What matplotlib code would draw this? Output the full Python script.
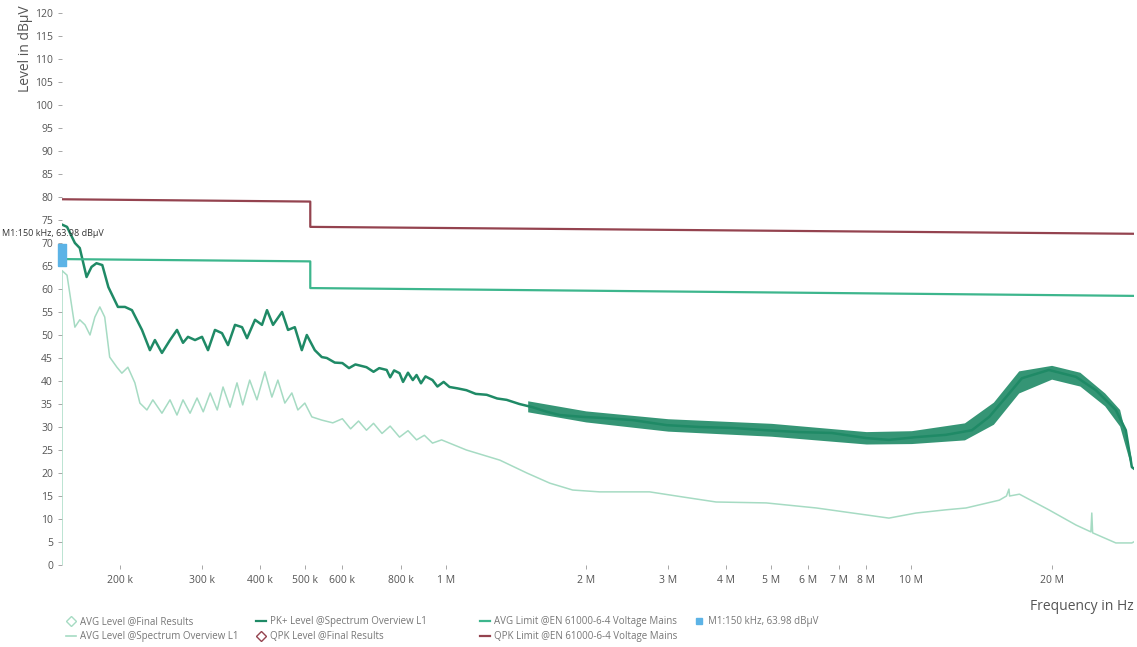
import matplotlib
matplotlib.use("Agg")
import matplotlib.pyplot as plt
from matplotlib.lines import Line2D

plt.rcParams['font.family'] = ['Open Sans', 'DejaVu Sans']

# PK+ level @Spectrum Overview L1 (kHz, dBuV)
pk_freq_khz = [150, 153.8, 159.9, 163.8, 169.4, 173.6, 177.9, 183.1, 188.7, 197.8,
               204.8, 212.0, 222.8, 231.7, 237.5, 245.9, 255.9, 264.9, 272.9, 279.7,
               289.6, 299.8, 308.8, 319.6, 330.9, 340.9, 352.9, 365.4, 374.5, 389.6,
               403.3, 413.4, 425.9, 445.3, 458.7, 474.3, 491.0, 503.3, 523.6, 542.0,
               555.6, 578, 600, 620, 640, 676, 700, 720, 747, 760,
               775, 796, 810, 830, 850, 866, 885, 905, 937, 960,
               990, 1019, 1060, 1108, 1160, 1225, 1290, 1352, 1440, 1537,
               1650, 1757, 1969, 2141, 2523, 2985, 3509, 4130, 4877, 5737,
               6752, 7985, 8950, 10230, 11860, 13490, 14690, 15970, 17270, 19730,
               22560, 24900, 27480, 28870, 29740, 30000]
pk_level = [74.0, 73.5, 70.0, 68.9, 62.6, 64.8, 65.6, 65.2, 60.4, 56.1,
            56.1, 55.4, 51.1, 46.7, 48.9, 46.1, 48.9, 51.1, 48.3, 49.6,
            48.9, 49.6, 46.7, 51.1, 50.4, 47.8, 52.2, 51.7, 49.3, 53.3,
            52.2, 55.4, 52.2, 55.0, 51.1, 51.7, 46.7, 50.0, 46.7, 45.2,
            45.0, 44.0, 43.9, 42.8, 43.6, 43.0, 42.0, 42.8, 42.4, 40.8,
            42.3, 41.7, 39.8, 41.8, 40.2, 41.3, 39.5, 41.0, 40.2, 38.8,
            39.8, 38.7, 38.4, 38.0, 37.2, 37.0, 36.2, 35.9, 35.0, 34.3,
            33.3, 32.6, 32.2, 32.0, 31.5, 30.4, 30.0, 29.8, 29.3, 28.9,
            28.7, 27.6, 27.2, 27.8, 28.3, 29.3, 32.2, 36.5, 40.6, 42.4,
            40.9, 38.0, 33.7, 29.3, 21.3, 21.0]

# noise envelope of the PK+ trace above 1.5 MHz
pk_band_khz = [1500, 2000, 3000, 5000, 8000, 10000, 13000, 15000, 17000, 20000,
               23000, 26000, 28000, 29700]
pk_band_lo = [33.3, 31.1, 29.1, 28.0, 26.3, 26.4, 27.2, 30.6, 37.4, 40.4,
              38.9, 34.6, 30.2, 21.0]
pk_band_hi = [35.7, 33.5, 31.8, 30.8, 29.0, 29.2, 30.9, 35.4, 42.2, 43.4,
              41.9, 37.4, 33.8, 23.0]

# AVG level @Spectrum Overview L1
avg_freq_khz = [150, 150, 153.8, 159.9, 163.8, 168.1, 172.3, 176.5, 180.9, 185.3,
                189.9, 196.8, 201.7, 207.8, 215.1, 220.5, 228.3, 235.1, 245.9, 255.9,
                264.9, 272.9, 282.6, 292.5, 301.6, 312.2, 323.2, 332.6, 344.3, 356.4,
                366.6, 379.5, 393.3, 409.1, 423.5, 436.2, 451.5, 467.4, 481.5, 498.4,
                516.0, 542.0, 572.3, 600, 625, 650, 676, 700, 730, 760,
                796, 830, 866, 900, 937, 980, 1108, 1307, 1494, 1673,
                1874, 2141, 2741, 3226, 3808, 4877, 6251, 7985, 8950, 10230,
                11860, 13100, 15450, 16000, 16200, 16250, 17060, 19730, 22560, 24290,
                24400, 24500, 27480, 29740, 30000]
avg_level = [0, 64.0, 63.0, 51.7, 53.3, 52.2, 50.0, 53.9, 56.1, 53.9,
             45.2, 43.0, 41.7, 43.0, 39.6, 35.2, 33.7, 35.9, 33.0, 35.9,
             32.6, 35.9, 33.0, 36.3, 33.3, 37.4, 33.7, 38.7, 34.3, 39.6,
             34.8, 40.2, 35.9, 42.0, 36.5, 40.2, 35.2, 37.4, 33.7, 35.2,
             32.2, 31.5, 30.9, 31.8, 29.6, 31.3, 29.3, 30.8, 28.6, 30.2,
             27.8, 29.2, 27.2, 28.2, 26.5, 27.2, 25.0, 22.8, 20.0, 17.8,
             16.3, 15.9, 15.9, 14.8, 13.7, 13.5, 12.4, 10.9, 10.2, 11.3,
             12.0, 12.4, 14.1, 15.0, 16.5, 15.0, 15.4, 12.0, 8.7, 7.2,
             11.3, 7.0, 4.8, 4.8, 5.0]

# limits EN 61000-6-4 voltage mains (step drawn as in the picture)
lim_freq_khz = [150, 512, 512, 30000]
avg_limit = [66.5, 66.0, 60.2, 58.5]
qpk_limit = [79.5, 79.0, 73.5, 72.0]

marker_freq_khz = 150
marker_level = 63.98
marker_text = 'M1:150 kHz, 63.98 dBµV'

xtick_khz = [200, 300, 400, 500, 600, 800, 1000, 2000, 3000, 4000, 5000, 6000,
             7000, 8000, 10000, 20000]
xtick_labels = ['200 k', '300 k', '400 k', '500 k', '600 k', '800 k', '1 M', '2 M',
                '3 M', '4 M', '5 M', '6 M', '7 M', '8 M', '10 M', '20 M']

c_pk = '#1f8a66'
c_avg = '#a6dbc3'
c_avglim = '#3db68d'
c_qpklim = '#94434f'
c_mark = '#5cb3e6'
c_text = '#555555'

fig = plt.figure(figsize=(11.37, 6.47), dpi=100)
ax = fig.add_axes([0.0545, 0.1267, 0.9425, 0.8533])

k = 1e3
ax.plot([f * k for f in avg_freq_khz], avg_level, color=c_avg, lw=1.1)
ax.fill_between([f * k for f in pk_band_khz], pk_band_lo, pk_band_hi,
                color=c_pk, lw=0, alpha=0.9)
ax.plot([f * k for f in pk_freq_khz], pk_level, color=c_pk, lw=1.8)
ax.plot([f * k for f in lim_freq_khz], avg_limit, color=c_avglim, lw=1.6)
ax.plot([f * k for f in lim_freq_khz], qpk_limit, color=c_qpklim, lw=1.6)

pin = [(-0.16, 0.2), (0.16, 0.2), (0.16, 1.0), (-0.16, 1.0), (-0.16, 0.2)]
ax.plot([marker_freq_khz * k], [marker_level], marker=pin, ms=39, color=c_mark,
        ls='none', clip_on=False, zorder=5)
ax.annotate(marker_text, xy=(marker_freq_khz * k, marker_level), xytext=(-43, 27),
            textcoords='offset points', fontsize=6.5, color='#333333', va='center',
            annotation_clip=False)

ax.set_xscale('log')
ax.set_xlim(150e3, 30e6)
ax.set_ylim(0, 120)
ax.set_yticks(range(0, 121, 5))
ax.set_xticks([f * k for f in xtick_khz])
ax.set_xticklabels(xtick_labels)
ax.xaxis.set_minor_locator(matplotlib.ticker.NullLocator())
ax.tick_params(axis='both', labelsize=7.5, colors='#999999', labelcolor=c_text,
               length=3, width=0.6)
ax.tick_params(axis='x', pad=4)
for s in ax.spines.values():
    s.set_visible(False)

fig.text(0.022, 0.992, 'Level in dBµV', rotation=90, va='top', ha='center',
         fontsize=10, color=c_text)
fig.text(0.997, 0.063, 'Frequency in Hz', ha='right', va='center',
         fontsize=10, color=c_text)

# legend: four fixed columns like the original
columns = [
    ([Line2D([], [], marker='D', mfc='none', mec=c_avg, ls='none', ms=5),
      Line2D([], [], color=c_avg, lw=1.2)],
     ['AVG Level @Final Results', 'AVG Level @Spectrum Overview L1'], 66),
    ([Line2D([], [], color=c_pk, lw=1.6),
      Line2D([], [], marker='D', mfc='none', mec=c_qpklim, ls='none', ms=5)],
     ['PK+ Level @Spectrum Overview L1', 'QPK Level @Final Results'], 256),
    ([Line2D([], [], color=c_avglim, lw=1.6),
      Line2D([], [], color=c_qpklim, lw=1.6)],
     ['AVG Limit @EN 61000-6-4 Voltage Mains', 'QPK Limit @EN 61000-6-4 Voltage Mains'], 480),
    ([Line2D([], [], marker='s', color=c_mark, ls='none', ms=4)],
     [marker_text], 694),
]
for hs, ls, xpix in columns:
    leg = fig.legend(hs, ls, loc='upper left', bbox_to_anchor=(xpix / 1137, 1 - 616 / 647),
                     frameon=False, fontsize=7, handlelength=1.0, handletextpad=0.4,
                     labelspacing=0.45, borderpad=0, borderaxespad=0)
    for t in leg.get_texts():
        t.set_color('#777777')

fig.savefig('out.png', dpi=100)
